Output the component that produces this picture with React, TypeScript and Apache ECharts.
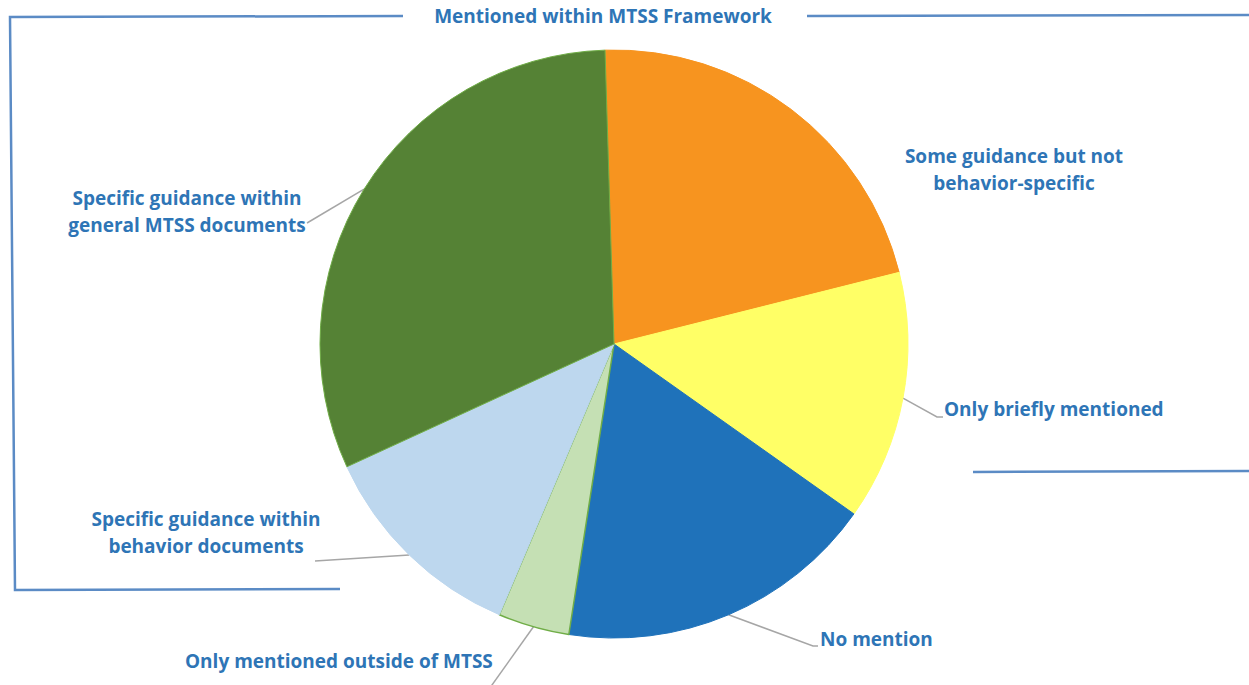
import React, { useEffect, useRef } from "react";
import * as echarts from "echarts";

const categories = [
  "Some guidance but not\nbehavior-specific",
  "Only briefly mentioned",
  "No mention",
  "Only mentioned outside of MTSS",
  "Specific guidance within\nbehavior documents",
  "Specific guidance within\ngeneral MTSS documents",
];
const values = [11, 7, 9, 2, 6, 16];
const sliceColors = ["#F7941F", "#FFFF66", "#1F72BA", "#C5E0B4", "#BDD7EE", "#558235"];
const groupLabel = "Mentioned within MTSS Framework";

const CX = 614;
const CY = 344;
const RADIUS = 294;
const START_ANGLE = 91.75;
const TEXT_COLOR = "#2E75B6";
const FONT = "'Open Sans'";
const FONT_SIZE = 19;

const labelPos = [
  { x: 1014, y: 169, align: "center" },
  { x: 944, y: 409, align: "left" },
  { x: 820, y: 639, align: "left" },
  { x: 185, y: 661, align: "left" },
  { x: 206, y: 532, align: "center" },
  { x: 187, y: 211, align: "center" },
];
const leaderEnds: (number[][] | null)[] = [
  null,
  [[937, 417], [943, 417]],
  [[813, 646], [818, 646]],
  [[487, 692], [487, 692]],
  [[315, 561], [315, 561]],
  [[307, 223], [307, 223]],
];

export default function App() {
  const ref = useRef<HTMLDivElement>(null);
  useEffect(() => {
    if (!ref.current) return;
    const chart = echarts.init(ref.current, null, { renderer: "svg" });
    const total = values.reduce((a, b) => a + b, 0);
    const startDeg = 90 - START_ANGLE;
    const mids: number[][] = [];
    let cum = 0;
    values.forEach((v) => {
      const mid = startDeg + ((cum + v / 2) / total) * 360;
      cum += v;
      const r = (mid * Math.PI) / 180;
      mids.push([CX + RADIUS * Math.sin(r), CY - RADIUS * Math.cos(r)]);
    });

    chart.setOption({
      animation: false,
      backgroundColor: "#ffffff",
      graphic: [
        {
          type: "polyline",
          shape: { points: [[403, 16], [10, 17], [15, 590], [340, 589]] },
          style: { stroke: "#5B8BC5", lineWidth: 2.5, fill: null },
          silent: true,
        },
        {
          type: "line",
          shape: { x1: 807, y1: 16, x2: 1249, y2: 15 },
          style: { stroke: "#5B8BC5", lineWidth: 2.5 },
          silent: true,
        },
        {
          type: "line",
          shape: { x1: 973, y1: 472, x2: 1249, y2: 471 },
          style: { stroke: "#5B8BC5", lineWidth: 2.5 },
          silent: true,
        },
        {
          type: "text",
          x: 603,
          y: 16,
          style: {
            text: groupLabel,
            fill: TEXT_COLOR,
            font: `bold ${FONT_SIZE}px ${FONT}`,
            textAlign: "center",
            textVerticalAlign: "middle",
          },
          silent: true,
        },
      ],
      series: [
        {
          type: "pie",
          center: [CX, CY],
          radius: RADIUS,
          startAngle: START_ANGLE,
          clockwise: true,
          avoidLabelOverlap: false,
          silent: true,
          emphasis: { disabled: true },
          label: {
            show: true,
            formatter: "{b}",
            color: TEXT_COLOR,
            fontFamily: "Open Sans",
            fontWeight: "bold",
            fontSize: FONT_SIZE,
            lineHeight: 27,
            align: "center",
          },
          labelLine: {
            show: true,
            lineStyle: { color: "#A6A6A6", width: 1.5 },
          },
          labelLayout: (params: any) => {
            const i = params.dataIndex;
            const p = labelPos[i];
            const out: any = {
              x: p.x,
              y: p.y,
              align: p.align,
              verticalAlign: "middle",
            };
            const e = leaderEnds[i];
            if (e) out.labelLinePoints = [mids[i], e[0], e[1]];
            return out;
          },
          data: categories.map((name, i) => ({
            name,
            value: values[i],
            itemStyle: {
              color: sliceColors[i],
              borderColor: i === 3 || i === 5 ? "#70AD47" : sliceColors[i],
              borderWidth: i === 3 ? 1.5 : 1,
            },
            label: { align: labelPos[i].align },
            labelLine: { show: leaderEnds[i] !== null },
          })),
        },
      ],
    });
    return () => chart.dispose();
  }, []);
  return (
    <div
      ref={ref}
      style={{ position: "absolute", left: 0, top: 0, width: 1249, height: 685 }}
    />
  );
}
